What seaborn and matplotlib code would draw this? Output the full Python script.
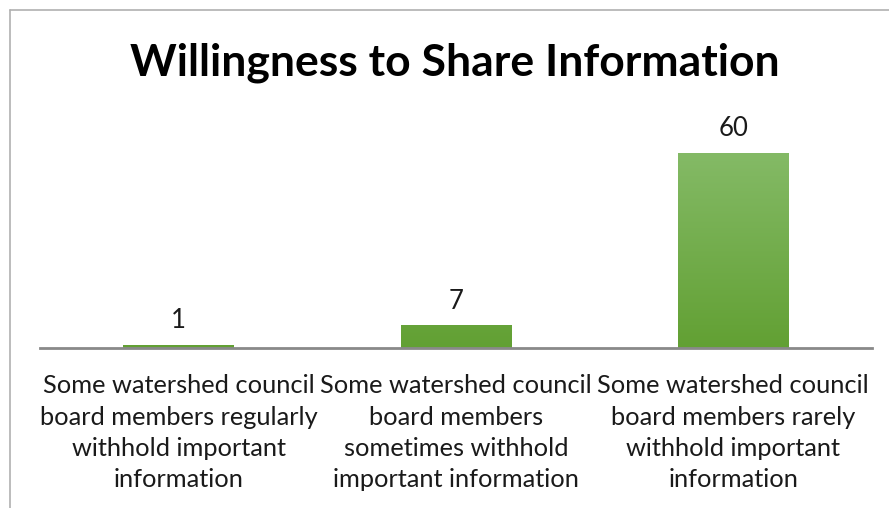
import matplotlib.pyplot as plt
import numpy as np
import pandas as pd
import seaborn as sns
from matplotlib.colors import LinearSegmentedColormap
from matplotlib.lines import Line2D

categorias = [
    "Some watershed council\nboard members regularly\nwithhold important\ninformation",
    "Some watershed council\nboard members\nsometimes withhold\nimportant information",
    "Some watershed council\nboard members rarely\nwithhold important\ninformation",
]
valores = [1, 7, 60]
titulo = "Willingness to Share Information"

sns.set_theme(style="white")
plt.rcParams["font.family"] = ["Lato", "DejaVu Sans"]

df = pd.DataFrame({"categoria": categorias, "valor": valores})

fig = plt.figure(figsize=(8.89, 5.08), dpi=100)
ax = fig.add_axes([40 / 889, 1 - 348 / 508, 832 / 889, 195 / 508])

sns.barplot(data=df, x="categoria", y="valor", color="#70ad47", width=0.40,
            saturation=1, ax=ax)

# gradiente vertical nas barras
cmap = LinearSegmentedColormap.from_list("verde", ["#62a033", "#84ba66"])
grad = np.linspace(0, 1, 256).reshape(-1, 1)
for barra in ax.patches:
    x0, y0 = barra.get_x(), barra.get_y()
    w, h = barra.get_width(), barra.get_height()
    img = ax.imshow(grad, cmap=cmap, origin="lower", aspect="auto",
                    extent=(x0, x0 + w, y0, y0 + 60), zorder=barra.get_zorder() + 0.1)
    img.set_clip_path(barra)
    ax.text(x0 + w / 2, h + 60 * 0.06, f"{h:.0f}", ha="center", va="bottom",
            fontsize=18.5, color="#1a1a1a")
ax.set_xlim(-0.5, 2.5)
ax.set_ylim(0, 60)

sns.despine(ax=ax, left=True, top=True, right=True)
ax.spines["bottom"].set_color("#898989")
ax.spines["bottom"].set_linewidth(2)
ax.set_yticks([])
ax.set_xlabel("")
ax.set_ylabel("")
ax.tick_params(axis="x", length=0, pad=19, labelsize=18.3, labelcolor="#1a1a1a")
for lbl in ax.get_xticklabels():
    lbl.set_linespacing(1.43)

fig.text(455 / 889, 1 - 63 / 508, titulo, ha="center", va="center",
         fontsize=32, fontweight="bold", color="#000000")

# moldura do gráfico
fig.add_artist(Line2D([10 / 889, 10 / 889], [0, 1 - 10 / 508], color="#b0b0b0", lw=1.2))
fig.add_artist(Line2D([10 / 889, 1], [1 - 10 / 508, 1 - 10 / 508], color="#b0b0b0", lw=1.2))

fig.savefig("out.png", dpi=100)
